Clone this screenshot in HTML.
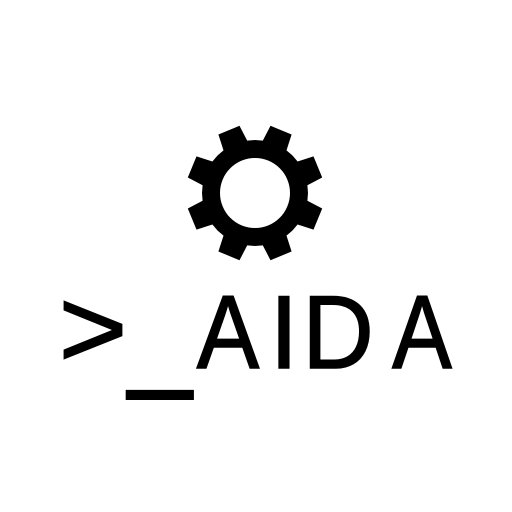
<!DOCTYPE html>
<html><head><meta charset="utf-8"><style>html,body{margin:0;padding:0;background:#fff}svg{display:block}</style></head>
<body>
<svg width="512" height="512" viewBox="0 0 512 512">
<rect width="512" height="512" fill="#fff"/>
<path id="gear" fill="#000" fill-rule="evenodd"/>
<g font-family="Liberation Sans, sans-serif" fill="#000" stroke="#000" stroke-width="1.5">
<text x="93" y="367" font-size="118" text-anchor="middle" transform="translate(93 367) scale(1 0.95) translate(-93 -367)">&gt;</text>
<text x="160" y="376" font-size="112" text-anchor="middle" stroke-width="3">_</text>
<text x="228" y="368" font-size="104" text-anchor="middle" transform="translate(228 368) scale(0.9 1) translate(-228 -368)">A</text>
<text x="284" y="368" font-size="104" text-anchor="middle">I</text>
<text x="338" y="368" font-size="104" text-anchor="middle" transform="translate(338 368) scale(0.95 1) translate(-338 -368)">D</text>
<text x="422" y="368" font-size="104" text-anchor="middle" transform="translate(422 368) scale(0.86 1) translate(-422 -368)">A</text>
</g>
</svg>
<script>
const cx=255,cy=193,rb=53,rt=69,rh=35;
let d='';const pts=[];
for(let k=0;k<8;k++){
 const c=(22.5+45*k-90)*Math.PI/180;
 const a1=14*Math.PI/180,a2=9.5*Math.PI/180;
 const P=(r,a)=>[cx+r*Math.cos(a),cy+r*Math.sin(a)];
 pts.push(P(rb,c-a1),P(rt,c-a2),P(rt,c+a2),P(rb,c+a1));
 const n=c+45*Math.PI/180;
 pts.push(P(rb,(c+a1+n-a1)/2));
}
d='M'+pts.map(p=>p[0].toFixed(1)+' '+p[1].toFixed(1)).join(' L')+' Z';
d+=` M${cx+rh} ${cy} A${rh} ${rh} 0 1 0 ${cx-rh} ${cy} A${rh} ${rh} 0 1 0 ${cx+rh} ${cy} Z`;
document.getElementById('gear').setAttribute('d',d);
</script>
</body></html>
